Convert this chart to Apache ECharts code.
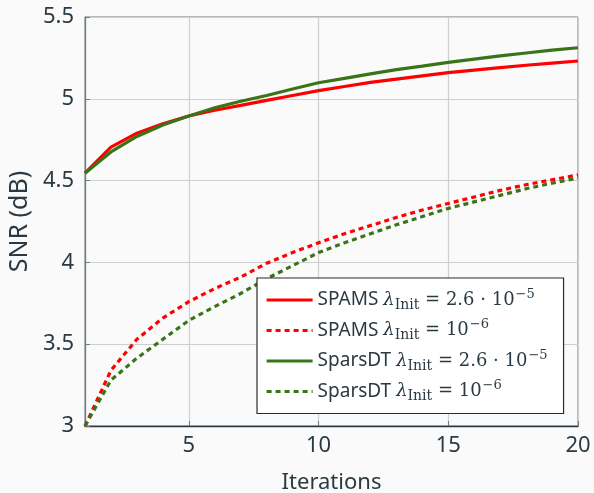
<!DOCTYPE html>
<html>
<head>
<meta charset="utf-8">
<script src="https://cdn.jsdelivr.net/npm/echarts@6/dist/echarts.min.js"></script>
<style>
  html, body { margin: 0; padding: 0; background: #fafafa; }
  #chart { width: 594px; height: 493px; }
</style>
</head>
<body>
<div id="chart"></div>
<script>
const iterations = [1, 2, 3, 4, 5, 6, 7, 8, 9, 10, 11, 12, 13, 14, 15, 16, 17, 18, 19, 20]
const spamsHigh = [4.545, 4.705, 4.79, 4.848, 4.895, 4.93, 4.96, 4.99, 5.02, 5.05, 5.075, 5.10, 5.12, 5.14, 5.16, 5.175, 5.19, 5.205, 5.218, 5.231]
const spamsLow = [3.0, 3.34, 3.53, 3.66, 3.76, 3.84, 3.91, 3.995, 4.06, 4.12, 4.175, 4.225, 4.275, 4.32, 4.36, 4.40, 4.44, 4.475, 4.505, 4.535]
const sparsHigh = [4.545, 4.675, 4.77, 4.84, 4.895, 4.945, 4.985, 5.02, 5.06, 5.098, 5.125, 5.152, 5.178, 5.20, 5.223, 5.243, 5.262, 5.28, 5.297, 5.312]
const sparsLow = [3.0, 3.28, 3.415, 3.53, 3.645, 3.73, 3.81, 3.9, 3.98, 4.06, 4.12, 4.175, 4.23, 4.28, 4.33, 4.37, 4.41, 4.45, 4.485, 4.515]
const xTicks = [5, 10, 15, 20]

const textColor = '#2b3a42'
const red = '#ff0000'
const green = '#3a7418'

// legend labels, written with rich text pieces
const legendRich = {
  'SPAMS high': '{n|SPAMS }{l|λ}{s|Init}{m| = 2.6 · 10}{p|−5}',
  'SPAMS low': '{n|SPAMS }{l|λ}{s|Init}{m| = 10}{p|−6}',
  'SparsDT high': '{n|SparsDT }{l|λ}{s|Init}{m| = 2.6 · 10}{p|−5}',
  'SparsDT low': '{n|SparsDT }{l|λ}{s|Init}{m| = 10}{p|−6}'
}

function pairs(ys) {
  return iterations.map((x, i) => [x, ys[i]])
}

function makeSeries(name, ys, color, dashed) {
  return {
    name: name,
    type: 'line',
    symbol: 'none',
    data: pairs(ys),
    lineStyle: { color: color, width: 3.2, type: dashed ? [5, 4] : 'solid' },
    itemStyle: { color: color },
    z: dashed ? 2 : 3
  }
}

const chart = echarts.init(document.getElementById('chart'))
chart.setOption({
  backgroundColor: '#fafafa',
  animation: false,
  grid: {
    left: 85, right: 16, top: 17, bottom: 67,
    outerBoundsMode: 'none',
    show: true, borderColor: '#6f7c82', borderWidth: 1
  },
  legend: {
    orient: 'vertical',
    left: 257, top: 278,
    padding: [10, 16, 10, 8],
    backgroundColor: '#ffffff',
    borderColor: '#2b2b2b',
    borderWidth: 1.2,
    itemWidth: 46,
    itemHeight: 14,
    itemGap: 6.5,
    itemStyle: { opacity: 0 },
    lineStyle: { width: 3.2 },
    data: Object.keys(legendRich),
    formatter: name => legendRich[name],
    textStyle: {
      color: textColor,
      rich: {
        n: { fontFamily: 'Noto Sans', fontSize: 19, color: textColor, lineHeight: 24 },
        l: { fontFamily: 'DejaVu Serif', fontStyle: 'italic', fontSize: 18, color: textColor, lineHeight: 24 },
        s: { fontFamily: 'DejaVu Serif', fontSize: 14, color: textColor, lineHeight: 13, verticalAlign: 'bottom' },
        m: { fontFamily: 'DejaVu Serif', fontSize: 18, color: textColor, lineHeight: 24 },
        p: { fontFamily: 'DejaVu Serif', fontSize: 13, color: textColor, lineHeight: 12, verticalAlign: 'top', padding: [0, 0, 0, 1] }
      }
    }
  },
  xAxis: {
    type: 'value',
    min: 1, max: 20,
    name: 'Iterations',
    nameLocation: 'middle',
    nameGap: 46,
    nameTextStyle: { fontFamily: 'Noto Sans', fontSize: 22, color: textColor },
    axisLine: { show: true, lineStyle: { color: textColor, width: 1.3 } },
    axisTick: { show: true, inside: true, length: 5, customValues: xTicks, lineStyle: { color: '#6f7c82' } },
    axisLabel: { customValues: xTicks, margin: 9, fontFamily: 'Noto Sans', fontSize: 22, color: textColor },
    splitLine: { show: true, lineStyle: { color: '#cfcfcf', width: 1.2 } }
  },
  yAxis: {
    type: 'value',
    min: 3, max: 5.5, interval: 0.5,
    name: 'SNR (dB)',
    nameLocation: 'middle',
    nameGap: 47,
    nameTextStyle: { fontFamily: 'Noto Sans', fontSize: 25, color: textColor },
    axisLine: { show: true, lineStyle: { color: '#6f7c82', width: 1.3 } },
    axisTick: { show: true, inside: true, length: 5, lineStyle: { color: '#6f7c82' } },
    axisLabel: { margin: 11, fontFamily: 'Noto Sans', fontSize: 22, color: textColor },
    splitLine: { show: true, lineStyle: { color: '#cfcfcf', width: 1.2 } }
  },
  series: [
    makeSeries('SPAMS high', spamsHigh, red, false),
    makeSeries('SPAMS low', spamsLow, red, true),
    makeSeries('SparsDT high', sparsHigh, green, false),
    makeSeries('SparsDT low', sparsLow, green, true)
  ]
})
</script>
</body>
</html>
